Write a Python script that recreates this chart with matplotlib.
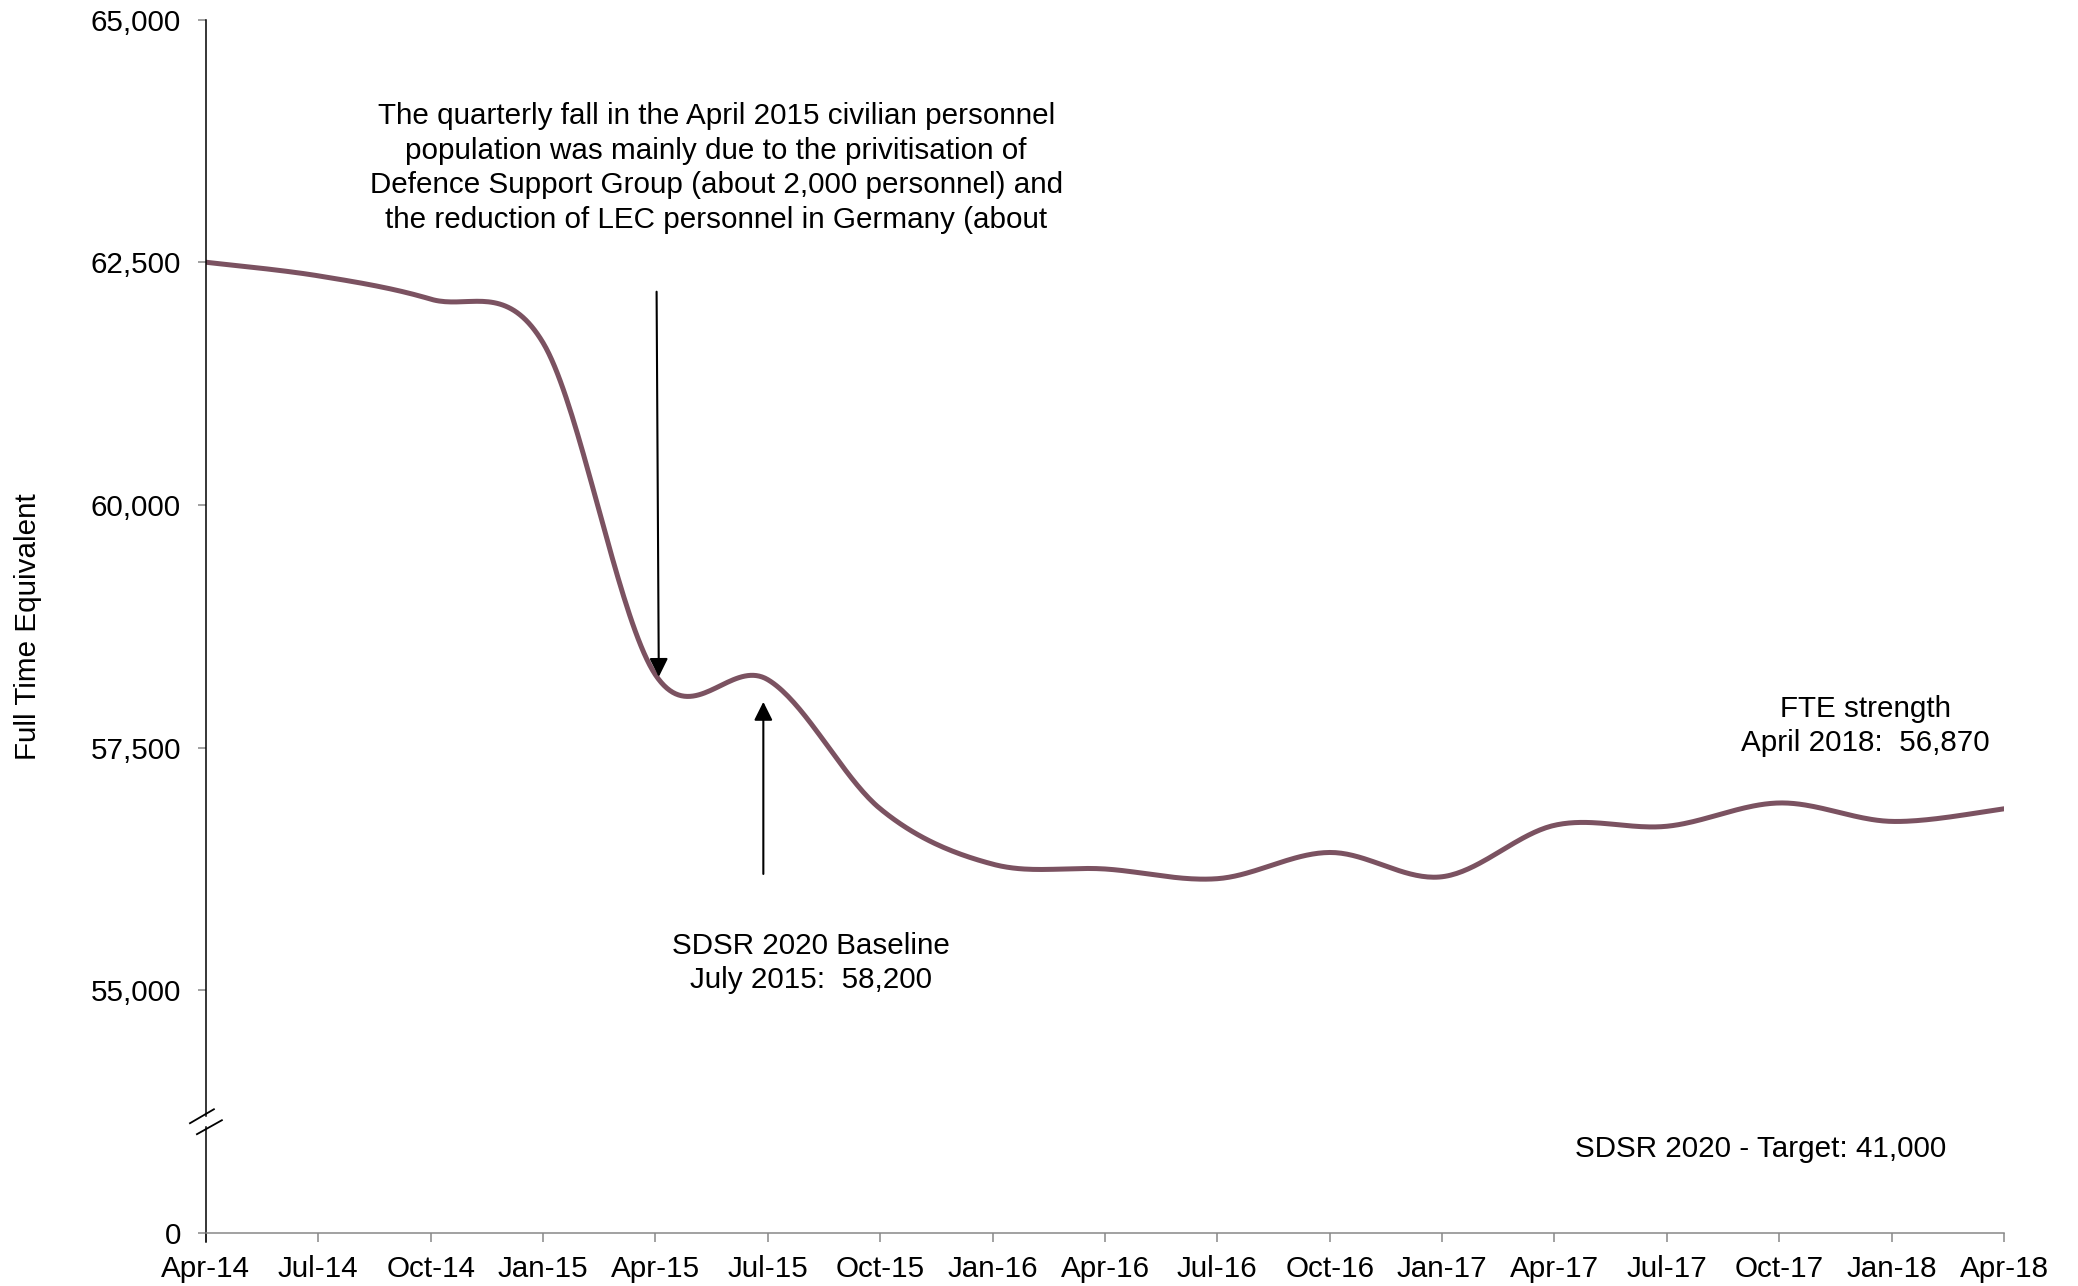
import numpy as np
import matplotlib.pyplot as plt

plt.rcParams['font.family'] = ['Liberation Sans', 'DejaVu Sans']

quarters = ['Apr-14', 'Jul-14', 'Oct-14', 'Jan-15', 'Apr-15', 'Jul-15', 'Oct-15',
            'Jan-16', 'Apr-16', 'Jul-16', 'Oct-16', 'Jan-17', 'Apr-17', 'Jul-17',
            'Oct-17', 'Jan-18', 'Apr-18']
fte = [62500, 62360, 62120, 61670, 58250, 58200, 56870, 56300, 56250, 56150,
       56420, 56170, 56700, 56690, 56930, 56740, 56870]

y_ticks = [52500, 55000, 57500, 60000, 62500, 65000]
y_tick_labels = ['0', '55,000', '57,500', '60,000', '62,500', '65,000']

LINE = '#7B5261'
GREY = '#888888'
FS = 21.3
LS = 1.31


def smooth(x, y, n=40):
    # spreadsheet style smoothed line: cubic bezier through every point
    x = np.asarray(x, float)
    y = np.asarray(y, float)
    px = np.concatenate([[x[0]], x, [x[-1]]])
    py = np.concatenate([[y[0]], y, [y[-1]]])
    t = np.linspace(0, 1, n)[:, None]
    xs, ys = [], []
    for i in range(1, len(px) - 2):
        p0 = np.array([px[i], py[i]])
        p3 = np.array([px[i + 1], py[i + 1]])
        c1 = p0 + (np.array([px[i + 1], py[i + 1]]) - np.array([px[i - 1], py[i - 1]])) / 6
        c2 = p3 - (np.array([px[i + 2], py[i + 2]]) - np.array([px[i], py[i]])) / 6
        seg = ((1 - t) ** 3) * p0 + 3 * ((1 - t) ** 2) * t * c1 + 3 * (1 - t) * t ** 2 * c2 + t ** 3 * p3
        xs.append(seg[:, 0])
        ys.append(seg[:, 1])
    return np.concatenate(xs), np.concatenate(ys)


fig = plt.figure(figsize=(20.78, 12.86), dpi=100)
ax = fig.add_axes([0.0991, 0.0412, 0.8653, 0.9436])

x = np.arange(len(quarters))
sx, sy = smooth(x, fte)
ax.plot(sx, sy, color=LINE, lw=3.6, solid_capstyle='round')

ax.set_xlim(0, len(quarters) - 1)
ax.set_ylim(52500, 65000)
ax.set_xticks(x)
ax.set_xticklabels(quarters, fontsize=FS)
ax.set_yticks(y_ticks)
ax.set_yticklabels(y_tick_labels, fontsize=FS)
ax.tick_params(axis='x', direction='out', length=6.5, width=1.1, color=GREY, pad=9)
ax.tick_params(axis='y', direction='out', length=6, width=1.1, color=GREY, pad=12)

for s in ['top', 'right', 'left']:
    ax.spines[s].set_visible(False)
ax.spines['bottom'].set_color(GREY)
ax.spines['bottom'].set_linewidth(1.1)

# left axis drawn in two pieces with a break between 0 and 55,000
ax.plot([0, 0], [53710, 65000], color='black', lw=1.1, clip_on=False)
ax.plot([0, 0], [52410, 53590], color='black', lw=1.1, clip_on=False)
ax.plot([-0.142, 0.071], [53631, 53775], color='black', lw=1.3, clip_on=False)
ax.plot([-0.080, 0.142], [53518, 53662], color='black', lw=1.3, clip_on=False)

ax.set_ylabel('Full Time Equivalent', fontsize=FS)
ax.yaxis.set_label_coords(-0.091, 0.5)

ax.text(4.54, 63470,
        'The quarterly fall in the April 2015 civilian personnel\n'
        'population was mainly due to the privitisation of\n'
        'Defence Support Group (about 2,000 personnel) and\n'
        'the reduction of LEC personnel in Germany (about',
        ha='center', va='center', fontsize=FS, linespacing=LS)
ax.annotate('', xy=(4.03, 58200), xytext=(4.01, 62225),
            arrowprops=dict(arrowstyle='-|>', color='black', lw=1.5, mutation_scale=28))
ax.annotate('', xy=(4.96, 58000), xytext=(4.96, 56170),
            arrowprops=dict(arrowstyle='-|>', color='black', lw=1.5, mutation_scale=28))

ax.text(5.38, 55281, 'SDSR 2020 Baseline\nJuly 2015:  58,200',
        ha='center', va='center', fontsize=FS, linespacing=LS)
ax.text(14.77, 57722, 'FTE strength\nApril 2018:  56,870',
        ha='center', va='center', fontsize=FS, linespacing=LS)
ax.text(13.83, 53365, 'SDSR 2020 - Target: 41,000',
        ha='center', va='center', fontsize=FS)

fig.savefig('out.png', dpi=100)
